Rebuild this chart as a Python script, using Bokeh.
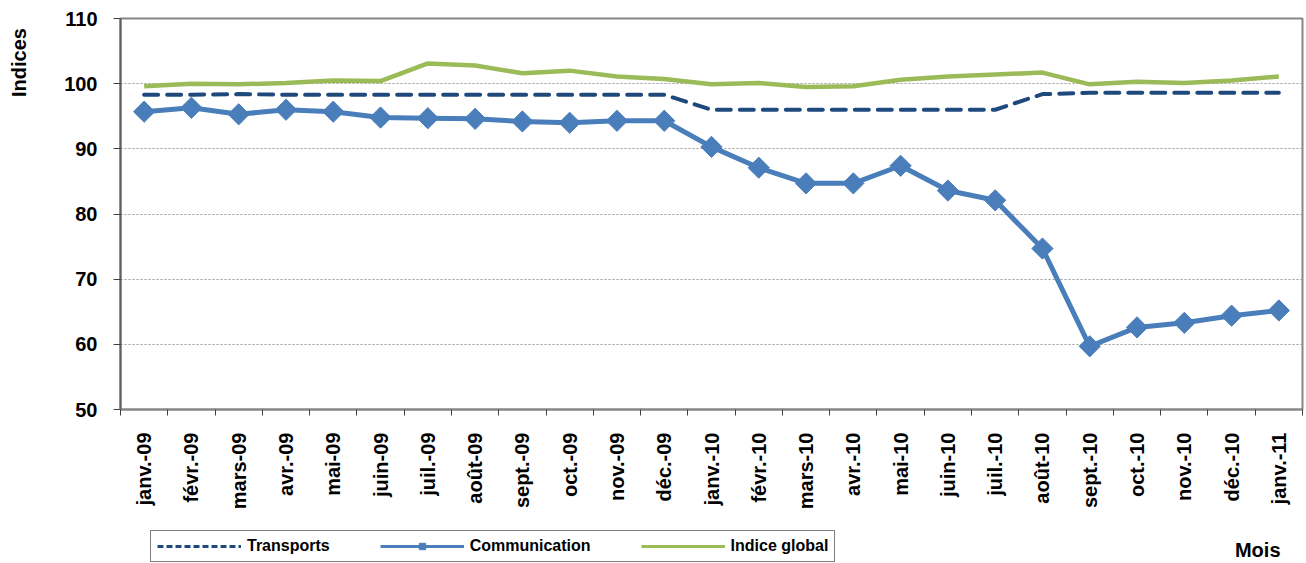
import math
from bokeh.plotting import figure
from bokeh.layouts import column, row
from bokeh.models import (Range1d, FixedTicker, Legend, LegendItem, Label, ColumnDataSource)
from bokeh.embed import file_html
from bokeh.resources import INLINE

months = ["janv.-09", "févr.-09", "mars-09", "avr.-09", "mai-09", "juin-09", "juil.-09",
          "août-09", "sept.-09", "oct.-09", "nov.-09", "déc.-09", "janv.-10", "févr.-10",
          "mars-10", "avr.-10", "mai-10", "juin-10", "juil.-10", "août-10", "sept.-10",
          "oct.-10", "nov.-10", "déc.-10", "janv.-11"]

transports = [98.3, 98.3, 98.4, 98.3, 98.3, 98.3, 98.3, 98.3, 98.3, 98.3, 98.3, 98.3,
              96.0, 96.0, 96.0, 96.0, 96.0, 96.0, 96.0, 98.4, 98.6, 98.6, 98.6, 98.6, 98.6]
communication = [95.7, 96.3, 95.3, 96.0, 95.7, 94.8, 94.7, 94.6, 94.2, 94.0, 94.3, 94.3,
                 90.3, 87.1, 84.7, 84.7, 87.4, 83.6, 82.1, 74.7, 59.7, 62.6, 63.3, 64.4, 65.2]
indice_global = [99.6, 100.0, 99.9, 100.1, 100.5, 100.4, 103.1, 102.8, 101.6, 102.0, 101.1, 100.7,
                 99.9, 100.1, 99.5, 99.6, 100.6, 101.1, 101.4, 101.7, 99.9, 100.3, 100.1, 100.5, 101.1]

series_names = ["Transports", "Communication", "Indice global"]
y_ticks = [50, 60, 70, 80, 90, 100, 110]
y_title = "Indices"
x_title = "Mois"

FONT = "Liberation Sans"
NAVY = "#1F497D"
BLUE = "#4A7EBB"
GREEN = "#9BBB59"
AXIS_GRAY = "#868686"

MAIN_H = 529
TOTAL_W = 1304
LEFT_W = 28
FRAME_TOP = 18
FRAME_BOTTOM = 409

idx = list(range(len(months)))
src = ColumnDataSource(dict(x=idx, t=transports, c=communication, g=indice_global))

# ---- main chart ----
p = figure(width=TOTAL_W - LEFT_W, height=MAIN_H, output_backend="svg", toolbar_location=None,
           x_range=Range1d(-0.5, len(months) - 0.5), y_range=Range1d(50, 110),
           min_border_left=120 - LEFT_W, min_border_top=FRAME_TOP, min_border_right=2,
           min_border_bottom=MAIN_H - FRAME_BOTTOM)

p.outline_line_color = AXIS_GRAY
p.outline_line_width = 2
p.background_fill_color = "white"
p.border_fill_color = "white"

p.line("x", "g", source=src, line_color=GREEN, line_width=4.5)
p.line("x", "t", source=src, line_color=NAVY, line_width=4, line_dash="14 9", line_cap="round")
p.line("x", "c", source=src, line_color=BLUE, line_width=5)
p.scatter("x", "c", source=src, marker="square", angle=math.pi / 4, size=15,
          fill_color=BLUE, line_color=BLUE)

xa = p.xaxis[0]
xa.ticker = FixedTicker(ticks=idx, minor_ticks=[i - 0.5 for i in range(len(months) + 1)])
xa.major_label_overrides = {i: m for i, m in enumerate(months)}
xa.major_label_orientation = math.pi / 2
xa.major_tick_out = 0
xa.major_tick_in = 0
xa.minor_tick_out = 6
xa.minor_tick_in = 0
xa.minor_tick_line_color = "#404040"
xa.major_label_standoff = 17
xa.major_label_text_font = FONT
xa.major_label_text_font_style = "bold"
xa.major_label_text_font_size = "20px"
xa.major_label_text_color = "black"
xa.axis_line_color = AXIS_GRAY
xa.axis_line_width = 2

ya = p.yaxis[0]
ya.ticker = FixedTicker(ticks=y_ticks)
ya.minor_tick_line_color = None
ya.major_tick_out = 7
ya.major_tick_in = 0
ya.major_tick_line_color = "#404040"
ya.major_label_standoff = 16
ya.major_label_text_font = FONT
ya.major_label_text_font_style = "bold"
ya.major_label_text_font_size = "20px"
ya.major_label_text_color = "black"
ya.axis_line_color = "#606060"
ya.axis_line_width = 2

p.xgrid.grid_line_color = None
p.ygrid.ticker = FixedTicker(ticks=y_ticks[1:-1])
p.ygrid.grid_line_color = "#9a9a9a"
p.ygrid.grid_line_dash = "2 2"
p.ygrid.grid_line_width = 1

# ---- left strip with the y title (its frame is aligned with the chart's frame) ----
lf = figure(width=LEFT_W, height=MAIN_H, output_backend="svg", toolbar_location=None,
            x_range=Range1d(0, 1), y_range=Range1d(0, 1), x_axis_type=None, y_axis_type=None,
            min_border=0)
lf.outline_line_color = None
lf.grid.visible = False
lf.add_layout(Label(x=18, y=FRAME_BOTTOM - 62, x_units="screen", y_units="screen", text=y_title,
                    angle=math.pi / 2, text_font=FONT, text_font_style="bold",
                    text_font_size="20px", text_align="center", text_baseline="middle",
                    text_color="black"))

# ---- bottom strip with legend and x title ----
STRIP_H = 34
q = figure(width=TOTAL_W, height=STRIP_H, output_backend="svg", toolbar_location=None,
           x_range=Range1d(0, 1), y_range=Range1d(0, 1), x_axis_type=None, y_axis_type=None,
           min_border=0)
q.outline_line_color = None
q.grid.visible = False
# legend proxies: same series, lying outside this strip's visible range
lt = q.line("x", "t", source=src, line_color=NAVY, line_width=3, line_dash="6 3")
lc = q.line("x", "c", source=src, line_color=BLUE, line_width=3)
lcm = q.scatter("x", "c", source=src, marker="square", angle=math.pi / 4, size=8,
                fill_color=BLUE, line_color=BLUE)
lg = q.line("x", "g", source=src, line_color=GREEN, line_width=3)

legend = Legend(items=[LegendItem(label=series_names[0], renderers=[lt]),
                       LegendItem(label=series_names[1], renderers=[lc, lcm]),
                       LegendItem(label=series_names[2], renderers=[lg])],
                orientation="horizontal", location=(150, 1),
                glyph_width=84, glyph_height=16, label_height=16, label_standoff=6,
                spacing=50, padding=6, margin=0,
                label_text_font=FONT, label_text_font_style="bold",
                label_text_font_size="16px", label_text_color="black",
                border_line_color="black", border_line_width=1.5,
                background_fill_color="white", background_fill_alpha=1.0)
q.add_layout(legend, "center")
q.add_layout(Label(x=1280, y=14, x_units="screen", y_units="screen", text=x_title,
                   text_font=FONT, text_font_style="bold", text_font_size="20px",
                   text_align="right", text_baseline="middle", text_color="black"))

layout = column(row(lf, p), q)
open("out.html", "w").write(file_html(layout, INLINE))
